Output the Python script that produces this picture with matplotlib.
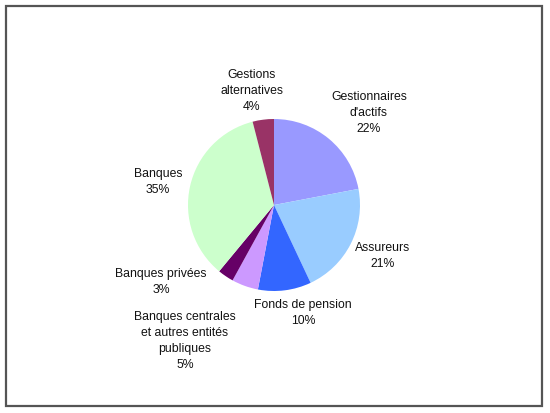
import matplotlib
matplotlib.use("Agg")
import matplotlib.pyplot as plt
from matplotlib.patches import Rectangle

labels = ["Gestionnaires\nd'actifs", "Assureurs", "Fonds de pension",
          "Banques centrales\net autres entités\npubliques", "Banques privées",
          "Banques", "Gestions\nalternatives"]
values = [22, 21, 10, 5, 3, 35, 4]
colors = ["#9999FF", "#99CCFF", "#3366FF", "#CC99FF", "#660066", "#CCFFCC", "#993366"]

W, H = 550, 413
fig = plt.figure(figsize=(W / 100, H / 100), dpi=100)
fig.patch.set_facecolor("white")

cx, cy, r = 274, 205, 86
ax = fig.add_axes([(cx - r) / W, (H - cy - r) / H, 2 * r / W, 2 * r / H])
ax.pie(values, colors=colors, startangle=90, counterclock=False,
       wedgeprops=dict(linewidth=0), radius=1)
ax.set_xlim(-1, 1)
ax.set_ylim(-1, 1)
ax.set_aspect("equal")
ax.axis("off")

# label centres in pixels (x, y of the text block centre)
label_px = [(369, 113), (383, 256), (303, 313), (185, 341), (161, 282), (158, 182), (252, 91)]
for lab, v, (px, py) in zip(labels, values, label_px):
    ax.text((px - cx) / r, (cy - py) / r, f"{lab}\n{v}%", ha="center", va="center",
            fontsize=8.8, family="Liberation Sans", linespacing=1.42, color="#111111",
            clip_on=False)

fig.patches.append(Rectangle((6 / W, (H - 406) / H), 536 / W, 400 / H,
                             transform=fig.transFigure, fill=False,
                             edgecolor="#555555", linewidth=1.6))
fig.savefig("out.png", dpi=100)
